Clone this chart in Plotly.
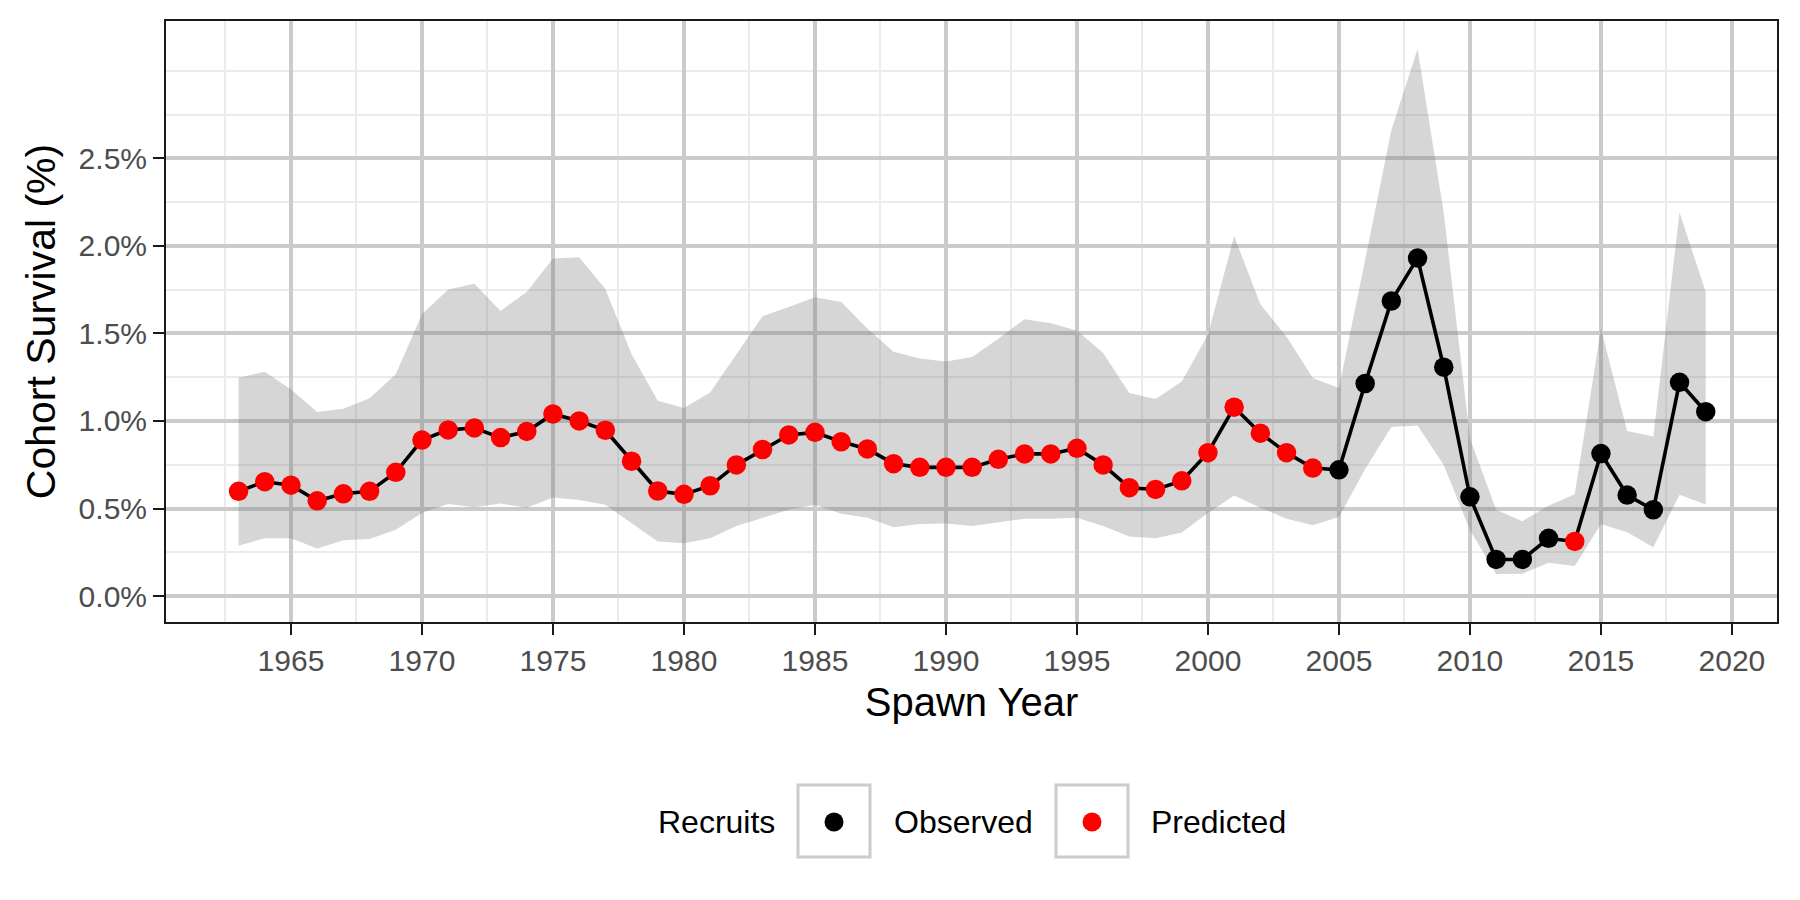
import plotly.graph_objects as go

# ---------------- data ----------------
years = list(range(1963, 2020))
survival = [0.598, 0.653, 0.633, 0.544, 0.584, 0.598, 0.707, 0.891, 0.949, 0.960,
            0.905, 0.940, 1.040, 1.000, 0.947, 0.770, 0.600, 0.581, 0.630, 0.749,
            0.837, 0.920, 0.935, 0.881, 0.840, 0.756, 0.735, 0.735, 0.735, 0.781,
            0.812, 0.812, 0.844, 0.749, 0.619, 0.609, 0.658, 0.819, 1.079, 0.930,
            0.819, 0.731, 0.721, 1.214, 1.685, 1.930, 1.307, 0.567, 0.209, 0.209,
            0.330, 0.312, 0.814, 0.577, 0.493, 1.221, 1.053]
upper = [1.247, 1.281, 1.179, 1.051, 1.070, 1.130, 1.267, 1.609, 1.751, 1.784,
         1.628, 1.737, 1.928, 1.935, 1.753, 1.381, 1.116, 1.074, 1.163, 1.377,
         1.598, 1.651, 1.707, 1.679, 1.528, 1.395, 1.356, 1.340, 1.365, 1.470,
         1.581, 1.558, 1.516, 1.388, 1.160, 1.126, 1.226, 1.493, 2.056, 1.667,
         1.481, 1.245, 1.188, 1.920, 2.660, 3.124, 2.191, 0.900, 0.493, 0.428,
         0.516, 0.581, 1.528, 0.942, 0.912, 2.191, 1.737]
lower = [0.288, 0.330, 0.330, 0.272, 0.319, 0.326, 0.379, 0.474, 0.526, 0.507,
         0.528, 0.505, 0.563, 0.549, 0.521, 0.416, 0.312, 0.302, 0.330, 0.400,
         0.447, 0.493, 0.521, 0.470, 0.447, 0.393, 0.412, 0.414, 0.400, 0.423,
         0.442, 0.442, 0.447, 0.400, 0.340, 0.330, 0.363, 0.474, 0.574, 0.505,
         0.442, 0.405, 0.451, 0.726, 0.965, 0.974, 0.749, 0.377, 0.126, 0.128,
         0.191, 0.172, 0.412, 0.365, 0.279, 0.579, 0.523]
status = ["Predicted"] * 42 + ["Observed"] * 9 + ["Predicted"] + ["Observed"] * 5

y_ticks = [0.0, 0.5, 1.0, 1.5, 2.0, 2.5]
y_ticktext = ["0.0%", "0.5%", "1.0%", "1.5%", "2.0%", "2.5%"]
y_minor = [0.25, 0.75, 1.25, 1.75, 2.25, 2.75, 3.0]
x_ticks = list(range(1965, 2021, 5))
x_minor = [1962.5 + 5 * i for i in range(12)]

FONT = "Liberation Sans, Arial, Helvetica, sans-serif"
W, H = 1800, 900
L, R, T, B = 166, 23, 21, 278

fig = go.Figure()

# ribbon
fig.add_trace(go.Scatter(x=years, y=lower, mode="lines", line=dict(width=0),
                         hoverinfo="skip", showlegend=False))
fig.add_trace(go.Scatter(x=years, y=upper, mode="lines", line=dict(width=0),
                         fill="tonexty", fillcolor="rgba(120,120,120,0.30)",
                         hoverinfo="skip", showlegend=False))
# line
fig.add_trace(go.Scatter(x=years, y=survival, mode="lines",
                         line=dict(color="black", width=3.6), showlegend=False))
# points
colors = {"Observed": "black", "Predicted": "#ff0000"}
for name in ["Observed", "Predicted"]:
    xs = [x for x, s in zip(years, status) if s == name]
    ys = [y for y, s in zip(survival, status) if s == name]
    fig.add_trace(go.Scatter(x=xs, y=ys, mode="markers", name=name,
                             marker=dict(color=colors[name], size=19.5, line=dict(width=0)),
                             showlegend=False))

# ---------- manual ggplot-like legend ----------
def px2x(px):
    return (px - L) / (W - L - R)

def py2y(py):
    return (H - B - py) / (H - B - T)

legend_y = 822
annots = [
    dict(text="Recruits", x=px2x(656), xanchor="left"),
    dict(text="Observed", x=px2x(892), xanchor="left"),
    dict(text="Predicted", x=px2x(1149), xanchor="left"),
]
for a in annots:
    fig.add_annotation(xref="paper", yref="paper", y=py2y(legend_y), yanchor="middle",
                       showarrow=False, font=dict(family=FONT, size=32, color="black"), **a)

shapes = []
for bx, col in [(798, "black"), (1056, "#ff0000")]:
    shapes.append(dict(type="rect", xref="paper", yref="paper",
                       x0=px2x(bx), x1=px2x(bx + 72), y0=py2y(785), y1=py2y(857),
                       line=dict(color="#cccccc", width=3), fillcolor="white", layer="above"))
    cx = bx + 36
    shapes.append(dict(type="circle", xref="paper", yref="paper",
                       x0=px2x(cx - 9.5), x1=px2x(cx + 9.5),
                       y0=py2y(legend_y + 9.5), y1=py2y(legend_y - 9.5),
                       line=dict(width=0), fillcolor=col, layer="above"))
fig.update_layout(shapes=shapes)

fig.update_layout(
    width=W, height=H, autosize=False,
    margin=dict(l=L, r=R, t=T, b=B, pad=0),
    paper_bgcolor="white", plot_bgcolor="white",
    font=dict(family=FONT, color="black"),
    showlegend=False,
)
fig.update_xaxes(
    range=[1960.23, 2021.72], tickmode="array", tickvals=x_ticks,
    ticks="outside", ticklen=11, tickwidth=2, tickcolor="#1a1a1a",
    tickfont=dict(family=FONT, size=30, color="#4d4d4d"),
    showgrid=True, gridcolor="#cbcbcb", gridwidth=3.8,
    minor=dict(tickmode="array", tickvals=x_minor, showgrid=True,
               gridcolor="#ebebeb", gridwidth=2, ticks=""),
    showline=True, linecolor="#1a1a1a", linewidth=2, mirror=True,
    zeroline=False,
    title=dict(text="Spawn Year", font=dict(family=FONT, size=40, color="black"), standoff=12),
)
fig.update_yaxes(
    range=[-0.148, 3.284], tickmode="array", tickvals=y_ticks, ticktext=y_ticktext,
    ticks="outside", ticklen=11, tickwidth=2, tickcolor="#1a1a1a",
    tickfont=dict(family=FONT, size=30, color="#4d4d4d"),
    showgrid=True, gridcolor="#cbcbcb", gridwidth=3.8,
    minor=dict(tickmode="array", tickvals=y_minor, showgrid=True,
               gridcolor="#ebebeb", gridwidth=2, ticks=""),
    showline=True, linecolor="#1a1a1a", linewidth=2, mirror=True,
    zeroline=False,
    title=dict(text="Cohort Survival (%)", font=dict(family=FONT, size=41, color="black"), standoff=10),
)

fig.write_html("out.html")
